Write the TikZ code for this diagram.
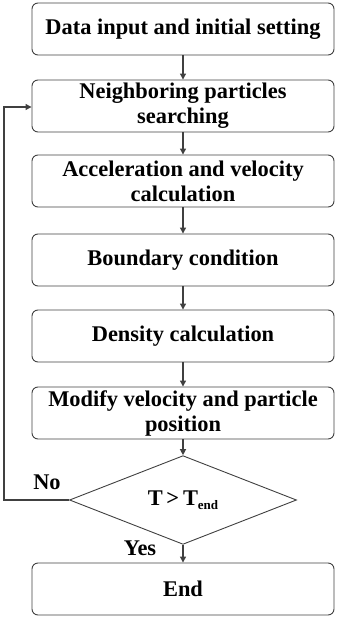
\documentclass[tikz,border=0pt]{standalone}
\usepackage{fontspec}
\setmainfont{Liberation Serif}
\usetikzlibrary{shapes.geometric,arrows.meta}
\definecolor{linec}{HTML}{404040}
\begin{document}
\begin{tikzpicture}[x=1pt,y=-1pt,
  stepbox/.style={draw=linec,line width=0.9pt,rounded corners=6pt,minimum width=302pt,minimum height=52pt,align=center,inner sep=0pt,font=\fontsize{22.4}{25}\selectfont\bfseries},
  decide/.style={draw=linec,line width=0.9pt,shape=diamond,minimum width=227pt,minimum height=75pt,inner sep=0pt,font=\fontsize{22.4}{25}\selectfont\bfseries},
  lbl/.style={font=\fontsize{22.4}{25}\selectfont\bfseries,inner sep=0pt},
  conn/.style={draw=linec,line width=1.2pt,-{Triangle[length=6pt,width=6pt]}}]
\useasboundingbox (0,0) rectangle (338,620);
\node[stepbox] (b1) at (183,29) {Data input and initial setting};
\node[stepbox] (b2) at (183,106) {Neighboring particles\\searching};
\node[stepbox] (b3) at (183,181) {Acceleration and velocity\\calculation};
\node[stepbox] (b4) at (183,260) {Boundary condition};
\node[stepbox] (b5) at (183,336) {Density calculation};
\node[stepbox] (b6) at (183,413) {Modify velocity and particle\\position};
\node[decide] (d) at (183,500) {T\,>\,T\raisebox{-0.35ex}{\fontsize{13}{13}\selectfont end}};
\node[stepbox] (b7) at (183,589) {End};
\coordinate (c1) at (4,500);
\coordinate (c2) at (4,107);
\draw[conn] (b1) -- (b2);
\draw[conn] (b2) -- (b3);
\draw[conn] (b3) -- (b4);
\draw[conn] (b4) -- (b5);
\draw[conn] (b5) -- (b6);
\draw[conn] (b6) -- (d);
\draw[conn] (d) -- (b7);
\draw[conn,rounded corners=0pt] (d.west) -- (c1) -- (c2) -- (b2.west |- c2);
\node[lbl] (no) at (47,482) {No};
\node[lbl] (yes) at (140,548) {Yes};
\end{tikzpicture}
\end{document}
